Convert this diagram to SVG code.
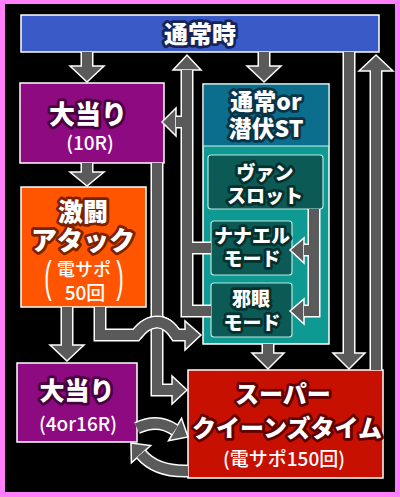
<svg xmlns="http://www.w3.org/2000/svg" width="400" height="497" viewBox="0 0 400 497">
<style>
.box{stroke:#fff;stroke-width:1.5}
.sub{fill:#0b5a56;stroke:#b8e8e0;stroke-width:1.2}
.t{font-family:"Noto Sans CJK JP","Noto Sans",sans-serif;font-weight:900;fill:#fff;text-anchor:middle;paint-order:stroke;stroke-linejoin:round;stroke-width:5.5}
.s{font-family:"Noto Sans CJK JP","Noto Sans",sans-serif;font-weight:500;fill:#fff;text-anchor:middle}
.p{font-family:"Liberation Sans",sans-serif;font-weight:400;fill:#fff;text-anchor:middle}
.sw{fill:none;stroke:#fff;stroke-width:13}
.sg{fill:none;stroke:#5a5a5a;stroke-width:10}
.hd{fill:#5a5a5a;stroke:#fff;stroke-width:1.5}
</style>
<rect width="400" height="497" fill="#ff80fa"/>
<rect x="5" y="4" width="390" height="488" fill="#000"/>

<g id="n-normal">
<rect class="box" x="21" y="15" width="358" height="37" fill="#3a5ac8"/>
<text class="t" x="200" y="43" font-size="24" stroke="#142458">通常時</text>
</g>

<g id="n-bonus10">
<rect class="box" x="20" y="83" width="144" height="80" fill="#8e0a80"/>
<text x="88" y="124" font-size="26"><tspan class="t" stroke="#48003e">大当り</tspan><tspan class="s" x="90" y="150" font-size="19">(10R)</tspan></text>
</g>

<g id="n-st">
<rect class="box" x="203" y="84" width="126" height="260" fill="#0e9a92"/>
<rect x="203.75" y="84.75" width="124.5" height="61.5" fill="#0b6e8c"/>
<line x1="203" y1="146" x2="329" y2="146" stroke="#cfe" stroke-width="1"/>
<text class="t" x="266" y="110" font-size="23" stroke="#0a3446">通常or<tspan x="266" y="137">潜伏ST</tspan></text>
</g>

<g id="n-van">
<rect class="sub" x="208" y="155" width="115" height="54" rx="3"/>
<text class="t" x="265" y="180" font-size="19" stroke="#06302e" stroke-width="4.5">ヴァン<tspan x="265" y="203">スロット</tspan></text>
</g>

<g id="n-nanael">
<rect class="sub" x="211" y="221" width="81" height="54" rx="3"/>
<text class="t" x="252" y="243" font-size="19" stroke="#06302e" stroke-width="4.5">ナナエル<tspan x="252" y="266">モード</tspan></text>
</g>

<g id="n-jagan">
<rect class="sub" x="211" y="283" width="81" height="54" rx="3"/>
<text class="t" x="251" y="306" font-size="19" stroke="#06302e" stroke-width="4.5">邪眼<tspan x="252" y="330">モード</tspan></text>
</g>

<g id="n-gekito">
<rect class="box" x="21" y="187" width="125" height="120" fill="#ff5500"/>
<text x="83" y="221" font-size="25"><tspan class="t" stroke="#7a2200">激闘</tspan><tspan class="t" stroke="#7a2200" x="83" y="250" font-size="26">アタック</tspan><tspan class="s" x="84" y="276" font-size="18">電サポ</tspan><tspan class="s" x="85" y="300" font-size="19">50回</tspan></text>
<text class="p" font-size="30" transform="translate(48,292) scale(0.75,1.45)">(</text>
<text class="p" font-size="30" transform="translate(120,292) scale(0.75,1.45)">)</text>
</g>

<g id="n-bonus416">
<rect class="box" x="17" y="363" width="120" height="79" fill="#8e0a80"/>
<text x="77" y="400" font-size="25"><tspan class="t" stroke="#48003e">大当り</tspan><tspan class="s" x="78" y="431" font-size="19">(4or16R)</tspan></text>
</g>

<g id="n-sqt">
<rect class="box" x="188" y="370" width="195" height="108" fill="#c81000"/>
<text x="283" y="403" font-size="24"><tspan class="t" stroke="#5e0000">スーパー</tspan><tspan class="t" stroke="#5e0000" x="287" y="437">クイーンズタイム</tspan><tspan class="s" x="284" y="466" font-size="19">(電サポ150回)</tspan></text>
</g>

<g id="connectors">
<g class="sw">
<path d="M87,52V67M264,52V67M349,52V354M376,370V70M87,163V173M157,163V390H173M268,344V354M314,209V311H304M314,250H304M211,248H187M211,311H187V70M187,122H176M67,307V346"/>
<path d="M100,307V335H136Q146,322 157,322Q168,322 176,335H186"/>
<path d="M137,428Q158,418 175,430"/>
<path d="M188,471Q156,472 141,454"/>
</g>
<g>
<polygon class="hd" points="70,66 104,66 87,82"/>
<polygon class="hd" points="247,66 281,66 264,82"/>
<polygon class="hd" points="333,353 365,353 349,369"/>
<polygon class="hd" points="359,71 393,71 376,55"/>
<polygon class="hd" points="70,172 104,172 87,186"/>
<polygon class="hd" points="172,376 172,404 187,390"/>
<polygon class="hd" points="252,353 284,353 268,369"/>
<polygon class="hd" points="304,238 304,263 290,250"/>
<polygon class="hd" points="304,299 304,324 290,311"/>
<polygon class="hd" points="173,70 201,70 187,55"/>
<polygon class="hd" points="176,108 176,136 162,122"/>
<polygon class="hd" points="50,345 84,345 67,361"/>
</g>
<path class="sg" d="M87,52V67M264,52V67M349,52V354M376,370V70M87,163V173M157,163V390H173M268,344V354M314,209V311H304M314,250H304M211,248H187M211,311H187V70M187,122H176M67,307V346"/>
<path class="sw" d="M136,335Q146,322 157,322Q168,322 176,335"/>
<path class="sg" d="M100,307V335H136Q146,322 157,322Q168,322 176,335H186"/>
<polygon class="hd" points="185,321 185,350 201,335"/>
<path class="sg" d="M100,307V335H136Q146,322 157,322Q168,322 176,335H186"/>
<polygon class="hd" points="-15,-13 0,0 -15,13" transform="translate(188,437) rotate(30)"/>
<path class="sg" d="M137,428Q158,418 175,430"/>
<polygon class="hd" points="-15,-13 0,0 -15,13" transform="translate(131,443) rotate(228)"/>
<path class="sg" d="M188,471Q156,472 141,454"/>
</g>
</svg>
